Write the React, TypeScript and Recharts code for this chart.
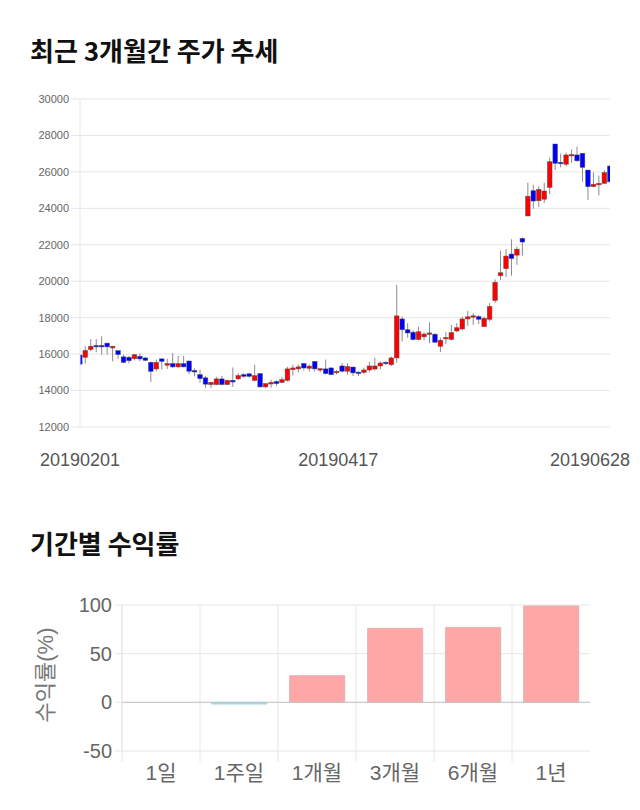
import React from "react";
import {
  ComposedChart,
  BarChart,
  Bar,
  XAxis,
  YAxis,
  CartesianGrid,
  Cell,
  ReferenceLine,
  Label,
} from "recharts";

// ---------- price chart data ----------
const xTickLabels = ["20190201", "20190417", "20190628"];
const xTickIndex = [0, 48, 97];
const priceTicks = [12000, 14000, 16000, 18000, 20000, 22000, 24000, 26000, 28000, 30000];

const opens = [
  15950, 15825, 16250, 16470, 16450, 16600, 16340, 16190, 15850, 15825,
  15750, 15880, 15790, 15550, 15185, 15740, 15390, 15480, 15300, 15480,
  15620, 15100, 14875, 14700, 14330, 14330, 14640, 14330, 14560, 14640,
  14875, 14920, 14560, 14930, 14200, 14360, 14500, 14450, 14560, 15150,
  15190, 15480, 15220, 15600, 15130, 15190, 15240, 14980, 15350, 15060,
  15290, 15000, 15000, 15130, 15180, 15350, 15550, 15420, 15790, 17930,
  17340, 17200, 16800, 16950, 17100, 17090, 16430, 16850, 16810, 17270,
  17380, 17930, 18030, 18060, 17510, 17910, 18940, 20300, 20690, 21490,
  21430, 22350, 23580, 24970, 24420, 24500, 25150, 27530, 26500, 26420,
  26900, 26930, 27020, 26100, 25190, 25320, 25370, 26320,
];
const closes = [
  15450, 16200, 16430, 16400, 16420, 16400, 16430, 15975, 15550, 15640,
  15970, 15737, 15660, 15056, 15550, 15600, 15480, 15300, 15480, 15300,
  15060, 15020, 14655, 14350, 14450, 14640, 14330, 14560, 14470, 14820,
  14780, 14780, 14820, 14200, 14380, 14450, 14380, 14600, 15190, 15240,
  15300, 15240, 15340, 15190, 15190, 14930, 14875, 15050, 15060, 15320,
  14970, 14940, 15130, 15350, 15350, 15510, 15480, 15790, 18100, 17340,
  17160, 16800, 17230, 17100, 17150, 16650, 16760, 16900, 17180, 17450,
  17930, 18050, 18100, 17910, 17970, 18620, 19940, 20470, 21380, 21240,
  21760, 22150, 24660, 24400, 25040, 24950, 26560, 26470, 26470, 26930,
  26930, 26610, 26250, 25190, 25320, 25340, 25960, 25460,
];
const highs = [
  16000, 16430, 16830, 16830, 16980, 16620, 16450, 16200, 15975, 15900,
  16000, 16050, 15850, 15580, 15700, 15760, 15740, 16065, 15900, 15900,
  15640, 15210, 15150, 14800, 14480, 14750, 14800, 14600, 15270, 14950,
  14950, 14960, 15420, 14950, 14400, 14600, 14550, 14750, 15300, 15420,
  15420, 15520, 15420, 15600, 15220, 15700, 15280, 15130, 15500, 15500,
  15300, 15060, 15250, 15580, 15800, 15600, 15600, 15880, 19800, 18070,
  17700, 17300, 17500, 17200, 17750, 17150, 16900, 17200, 17600, 17700,
  18050, 18380, 18250, 18150, 18050, 18800, 20100, 21680, 21760, 22300,
  21900, 22400, 25410, 25300, 25200, 25400, 26780, 27530, 27000, 27050,
  27240, 27390, 27020, 26100, 25980, 25800, 26100, 26400,
];
const lows = [
  15350, 15480, 16150, 16100, 15970, 15970, 15600, 15750, 15500, 15500,
  15650, 15600, 15600, 14475, 15050, 15150, 15185, 15240, 15250, 15280,
  14900, 14780, 14440, 14150, 14150, 14300, 14300, 14300, 14200, 14600,
  14700, 14700, 14500, 14180, 14130, 14150, 14250, 14400, 14500, 14820,
  15000, 15100, 15050, 15050, 15000, 14880, 14850, 14880, 15000, 14880,
  14800, 14800, 14900, 15000, 15100, 15150, 15400, 15350, 15530, 16700,
  16900, 16750, 16750, 16750, 16600, 16600, 16110, 16550, 16750, 17200,
  17300, 17550, 17600, 17650, 17500, 17800, 18800, 20070, 20230, 20300,
  20900, 21400, 23580, 23970, 24070, 24300, 24770, 26100, 26250, 26300,
  26500, 26550, 25460, 24460, 25150, 24700, 25350, 25400,
];

const candles = opens.map((o, i) => ({
  i,
  open: o,
  close: closes[i],
  high: highs[i],
  low: lows[i],
}));

// ---------- returns chart data ----------
const periods = ["1일", "1주일", "1개월", "3개월", "6개월", "1년"];
const returns = [0, -1.7, 27.3, 76, 77, 99];
const returnTicks = [-50, 0, 50, 100];
const returnRows = periods.map((p, k) => ({ period: p, value: returns[k] }));

// ---------- styles ----------
const FONT = "'Liberation Sans', Arial, 'Noto Sans CJK KR', sans-serif";
const TITLE_FONT = "'Noto Sans CJK KR', 'Noto Sans', sans-serif";
const GRID = "#e6e6e6";

const C2_LEFT = 122;
const C2_RIGHT = 50;
const C2_WIDTH = 640;
const BAND2 = (C2_WIDTH - C2_LEFT - C2_RIGHT) / periods.length;

const Candle = (props: any) => {
  const { x, y, width, height } = props;
  const d = props.payload ?? props;
  const { open, close, high, low } = d;
  const top = Math.min(y, y + height);
  const h = Math.abs(height);
  const k = high === low ? 0 : h / (high - low);
  const py = (v: number) => top + (high - v) * k;
  const cx = x + width / 2;
  const up = close >= open;
  const bw = 4.6;
  const yo = py(open);
  const yc = py(close);
  let bt = Math.min(yo, yc);
  let bh = Math.abs(yo - yc);
  if (bh < 1.4) {
    bt -= (1.4 - bh) / 2;
    bh = 1.4;
  }
  return (
    <g>
      <line x1={cx} x2={cx} y1={top} y2={top + h} stroke="#8c8c8c" strokeWidth={1} />
      <rect
        x={cx - bw / 2}
        y={bt}
        width={bw}
        height={bh}
        fill={up ? "#ff0000" : "#0000ff"}
        stroke="#4a4a4a"
        strokeOpacity={0.65}
        strokeWidth={0.7}
      />
    </g>
  );
};

const DateTick = (props: any) => {
  const { x, y, payload } = props;
  const idx = xTickIndex.indexOf(payload.value);
  const label = xTickLabels[idx] ?? "";
  const last = idx === xTickIndex.length - 1;
  return (
    <text
      x={last ? x + 20 : idx === 1 ? x - 4 : x}
      y={y + 39}
      textAnchor={last ? "end" : "middle"}
      fontSize={18}
      fill="#555"
      fontFamily={FONT}
    >
      {label}
    </text>
  );
};

const PeriodTick = (props: any) => {
  const { x, y, payload } = props;
  const half = BAND2 / 2;
  return (
    <g>
      <line x1={x - half} x2={x - half} y1={y} y2={y + 11} stroke={GRID} />
      <text x={x} y={y + 29} textAnchor="middle" fontSize={21} fill="#666" fontFamily={FONT}>
        {payload.value}
      </text>
    </g>
  );
};

const YLabel = (props: any) => {
  const vb = props.viewBox || { x: 0, y: 0, width: 0, height: 0 };
  const cx = vb.x + 45;
  const cy = vb.y + vb.height / 2 - 3;
  return (
    <text
      x={cx}
      y={cy}
      transform={`rotate(-90, ${cx}, ${cy})`}
      textAnchor="middle"
      dominantBaseline="central"
      fontSize={22}
      fill="#777"
      fontFamily={FONT}
    >
      수익률(%)
    </text>
  );
};

export default function App() {
  return (
    <div
      style={{
        position: "absolute",
        left: 0,
        top: 0,
        width: 640,
        height: 810,
        background: "#fff",
        overflow: "hidden",
      }}
    >
      <svg width={640} height={810} style={{ position: "absolute", left: 0, top: 0 }}>
        <text x={30} y={61} fontSize={26} fontWeight={700} fill="#111" fontFamily={TITLE_FONT}>
          최근 3개월간 주가 추세
        </text>
        <text x={30} y={554} fontSize={26} fontWeight={700} fill="#111" fontFamily={TITLE_FONT}>
          기간별 수익률
        </text>
      </svg>

      <div style={{ position: "absolute", left: 0, top: 0 }}>
        <ComposedChart
          width={640}
          height={480}
          data={candles}
          margin={{ top: 99, right: 30, bottom: 13, left: 0 }}
        >
          <CartesianGrid vertical={false} stroke={GRID} />
          <XAxis
            dataKey="i"
            type="number"
            domain={[0, 97]}
            ticks={xTickIndex}
            allowDataOverflow
            axisLine={false}
            tickLine={false}
            tickSize={0}
            tickMargin={0}
            height={40}
            tick={<DateTick />}
            interval={0}
          />
          <YAxis
            type="number"
            domain={[12000, 30000]}
            ticks={priceTicks}
            allowDataOverflow
            width={80}
            axisLine={{ stroke: GRID }}
            tickLine={{ stroke: GRID }}
            tickSize={9}
            tickMargin={2}
            tick={{ fontSize: 11, fill: "#666", fontFamily: FONT }}
            interval={0}
          />
          <Bar
            dataKey={(d: any) => [d.low, d.high]}
            shape={<Candle />}
            isAnimationActive={false}
          />
        </ComposedChart>
      </div>

      <div style={{ position: "absolute", left: 0, top: 560 }}>
        <BarChart
          width={C2_WIDTH}
          height={250}
          data={returnRows}
          margin={{ top: 45, right: C2_RIGHT, bottom: 19, left: 0 }}
          barCategoryGap="15%"
        >
          <CartesianGrid
            stroke={GRID}
            verticalCoordinatesGenerator={({ offset }: any) =>
              periods.map((_, k) => offset.left + (k * offset.width) / periods.length)
            }
          />
          <XAxis
            dataKey="period"
            axisLine={false}
            tickLine={false}
            tickSize={0}
            tickMargin={0}
            height={40}
            tick={<PeriodTick />}
            interval={0}
          />
          <YAxis
            type="number"
            domain={[-50, 100]}
            ticks={returnTicks}
            width={C2_LEFT}
            axisLine={{ stroke: GRID }}
            tickLine={{ stroke: GRID }}
            tickSize={7}
            tickMargin={3}
            tick={{ fontSize: 20, fill: "#666", fontFamily: FONT }}
            interval={0}
          >
            <Label content={<YLabel />} />
          </YAxis>
          <ReferenceLine y={0} stroke="#c4c4c4" strokeWidth={1} />
          <Bar dataKey="value" isAnimationActive={false}>
            {returnRows.map((r, k) => (
              <Cell
                key={k}
                fill={r.value >= 0 ? "#ffa6a6" : "#a8e0e8"}
                stroke={r.value >= 0 ? "#e2b0b0" : "#9ad8e2"}
                strokeWidth={1}
              />
            ))}
          </Bar>
        </BarChart>
      </div>
    </div>
  );
}
